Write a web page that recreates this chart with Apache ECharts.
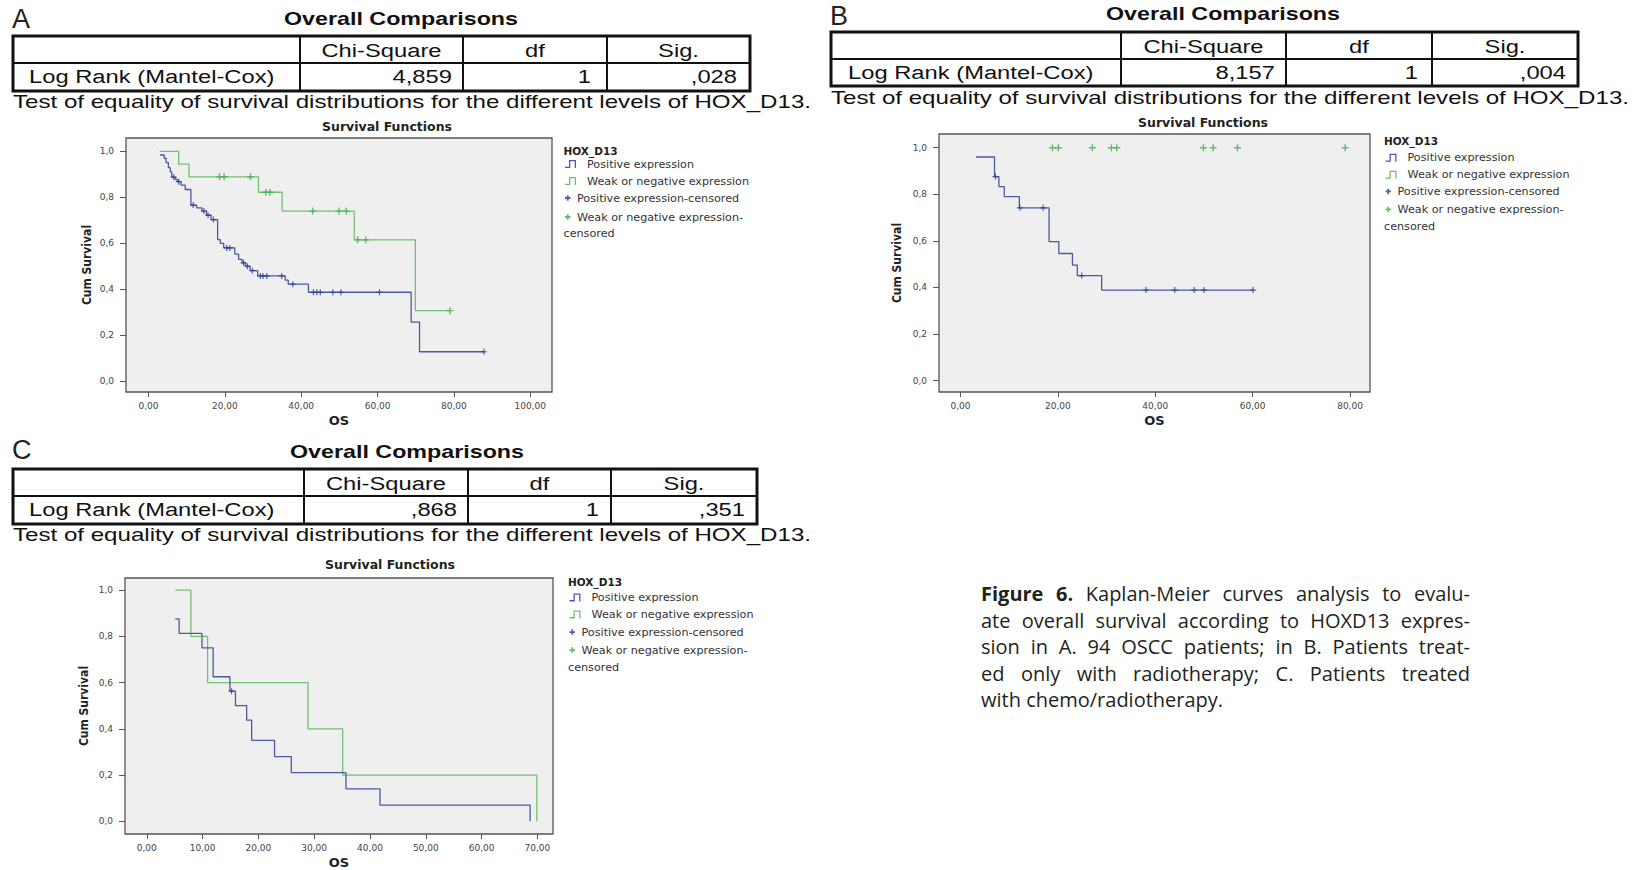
<!DOCTYPE html>
<html>
<head>
<meta charset="utf-8">
<script src="https://cdn.jsdelivr.net/npm/echarts@6/dist/echarts.min.js"></script>
<style>
html,body{margin:0;padding:0;background:#fff;}
#chart{position:absolute;left:0;top:0;width:1649px;height:870px;}
#fig{position:absolute;left:981px;top:581px;width:489px;font-family:'Open Sans',sans-serif;font-size:20px;line-height:26.5px;color:#231f20;}
#fig .j{text-align:justify;text-align-last:justify;}
#fig b{font-weight:700;}
</style>
</head>
<body>
<div id="chart"></div>
<div id="fig">
<div class="j"><b>Figure 6.</b> Kaplan-Meier curves analysis to evalu-</div>
<div class="j">ate overall survival according to HOXD13 expres-</div>
<div class="j">sion in A. 94 OSCC patients; in B. Patients treat-</div>
<div class="j">ed only with radiotherapy; C. Patients treated</div>
<div>with chemo/radiotherapy.</div>
</div>
<script>
// ---------------- DATA ----------------
const panelLabels = ['A', 'B', 'C'];
const tableTitle = 'Overall Comparisons';
const tableHeader = ['Chi-Square', 'df', 'Sig.'];
const rowLabel = 'Log Rank (Mantel-Cox)';
const chiSquare = ['4,859', '8,157', ',868'];
const dfValues = ['1', '1', '1'];
const sigValues = [',028', ',004', ',351'];
const tableNote = 'Test of equality of survival distributions for the different levels of HOX_D13.';
const plotTitle = 'Survival Functions';
const legendTitle = 'HOX_D13';
const xName = 'OS';
const yName = 'Cum Survival';
const seriesNames = ['Positive expression', 'Weak or negative expression',
  'Positive expression-censored', 'Weak or negative expression-censored'];

const xTicksA = [0, 20, 40, 60, 80, 100];
const xTicksB = [0, 20, 40, 60, 80];
const xTicksC = [0, 10, 20, 30, 40, 50, 60, 70];
const yTicks = [0, 0.2, 0.4, 0.6, 0.8, 1.0];

// Panel A (94 OSCC patients)
const posA = [[3.0,0.984],[4.1,0.970],[4.6,0.951],[5.2,0.929],[5.7,0.911],[6.1,0.888],[7.0,0.878],[7.6,0.868],
  [8.5,0.853],[9.6,0.834],[11.1,0.766],[12.6,0.754],[14.0,0.740],[15.2,0.722],[16.4,0.703],[18.1,0.616],
  [18.8,0.600],[19.7,0.580],[22.6,0.553],[23.6,0.530],[24.5,0.515],[25.4,0.500],[26.6,0.481],[28.6,0.458],
  [35.8,0.440],[36.6,0.422],[41.9,0.387],[68.8,0.257],[71.0,0.128],[87.9,0.128]];
const posCensA = [[6.6,0.888],[7.9,0.868],[11.7,0.766],[14.5,0.740],[15.6,0.722],[17.0,0.703],[20.5,0.580],
  [21.3,0.580],[24.9,0.515],[25.9,0.500],[27.2,0.481],[29.3,0.458],[30.0,0.458],[31.0,0.458],[34.9,0.458],
  [37.8,0.422],[43.2,0.387],[44.1,0.387],[45.0,0.387],[48.3,0.387],[50.4,0.387],[60.5,0.387],[87.9,0.128]];
const negA = [[2.9,1.0],[7.9,0.944],[10.6,0.889],[28.8,0.822],[35.0,0.740],[53.9,0.615],[69.9,0.307],[79.0,0.307]];
const negCensA = [[18.6,0.889],[19.8,0.889],[26.7,0.889],[30.7,0.822],[31.8,0.822],[43.0,0.740],[49.9,0.740],
  [51.8,0.740],[54.8,0.615],[56.9,0.615],[79.0,0.307]];

// Panel B (radiotherapy only)
const posB = [[3.2,0.960],[7.0,0.876],[7.9,0.833],[9.0,0.790],[12.1,0.742],[18.2,0.597],[20.2,0.546],
  [23.0,0.496],[24.0,0.451],[29.0,0.389],[60.1,0.389]];
const posCensB = [[7.2,0.876],[12.2,0.742],[17.0,0.742],[24.9,0.451],[38.1,0.389],[44.0,0.389],[48.0,0.389],
  [50.0,0.389],[60.1,0.389]];
const negB = [];
const negCensB = [[18.9,1],[20.1,1],[27.1,1],[31.0,1],[32.1,1],[49.9,1],[51.9,1],[56.9,1],[79.0,1]];

// Panel C (chemo/radiotherapy)
const posC = [[5.1,0.875],[5.8,0.8125],[9.9,0.75],[11.9,0.625],[14.9,0.5625],[15.9,0.5],[17.9,0.4375],
  [18.8,0.35],[22.9,0.28],[25.9,0.21],[35.7,0.14],[41.8,0.07],[68.7,0.0]];
const posCensC = [[15.2,0.5625]];
const negC = [[5.1,1.0],[7.9,0.8],[10.9,0.6],[28.9,0.4],[35.1,0.2],[69.9,0.0]];
const negCensC = [];

// ---------------- LAYOUT / STYLE ----------------
const ARIAL = "'Liberation Sans', Arial, sans-serif";
const SPSS = "'DejaVu Sans', Verdana, sans-serif";
const NARROW = "'Liberation Sans Narrow', 'DejaVu Sans Condensed', 'Liberation Sans', sans-serif";
const BLUE = '#4d59a1', GREEN = '#74c072', BLUE_C = '#2b3990', GREEN_C = '#3fae49';
const LEG_BLUE = '#5a52c4';
const SX = 1.32;

const panels = [
  { data: [posA, negA, posCensA, negCensA], xTicks: xTicksA,
    grid: {left:126, top:138, width:426, height:254}, xMin:-5.9, xMax:105.7, yMin:-0.047, yMax:1.058, yGap:33,
    tbl: {x0:13, x1:750, y0:36, ym:63, y1:91, cols:[300,463,607], hdrY:50.5, rowY:77, labelX:29, valR:[452,591,737],
          titleX:401, titleY:19, letterX:12, letterY:19, noteX:13, noteY:102},
    plotTitle: {x:387, y:120},
    leg: {x:563.5, iconX:565, titleY:151, lineTop:158.5, lineGap:6, censTop:192.5, censGap:8, censY:233.5} },
  { data: [posB, negB, posCensB, negCensB], xTicks: xTicksB,
    grid: {left:939, top:134, width:431, height:258}, xMin:-4.4, xMax:84.1, yMin:-0.0485, yMax:1.0588, yGap:36,
    tbl: {x0:831, x1:1578, y0:32, ym:59, y1:86, cols:[1121,1286,1432], hdrY:46.5, rowY:73, labelX:848, valR:[1275,1418,1566],
          titleX:1223, titleY:14, letterX:830, letterY:16, noteX:831, noteY:98},
    plotTitle: {x:1203, y:115.5},
    leg: {x:1384, iconX:1385.5, titleY:141, lineTop:152.3, lineGap:6, censTop:185.9, censGap:7, censY:226} },
  { data: [posC, negC, posCensC, negCensC], xTicks: xTicksC,
    grid: {left:125, top:578, width:428, height:257}, xMin:-3.9, xMax:72.8, yMin:-0.055, yMax:1.052, yGap:35,
    tbl: {x0:13, x1:757, y0:469, ym:496, y1:524, cols:[304,468,611], hdrY:483.5, rowY:510, labelX:29, valR:[457,599,745],
          titleX:407, titleY:452, letterX:12, letterY:450, noteX:13, noteY:535},
    plotTitle: {x:390, y:557.5},
    leg: {x:568, iconX:569.5, titleY:582, lineTop:591.9, lineGap:6, censTop:626.6, censGap:7, censY:667} }
];

// legend glyphs (degenerate sub-paths only pad the bounding box)
const STEP_ICON = 'path://M0,13.4L8,13.4L8,0L22,0L22,16L19.4,16L19.4,2.6L10.6,2.6L10.6,16L0,16ZM34,8L34,8Z';
const CROSS_ICON = 'path://M0,0L0,0ZM14,14L14,14ZM3.7,1.5L7.3,1.5L7.3,5.2L11,5.2L11,8.8L7.3,8.8L7.3,12.5L3.7,12.5L3.7,8.8L0,8.8L0,5.2L3.7,5.2Z';
const CROSS_SYM = 'path://M4,0L6,0L6,4L10,4L10,6L6,6L6,10L4,10L4,6L0,6L0,4L4,4Z';

const fmtX = v => v.toFixed(2).replace('.', ',');
const fmtY = v => v.toFixed(1).replace('.', ',');

function txt(text, x, y, align, size, weight, sx, family, color) {
  return { type: 'text', x: x, y: y, scaleX: sx, silent: true,
    style: { text: text, align: align, verticalAlign: 'middle', fontSize: size, fontWeight: weight,
      fontFamily: family, fill: color } };
}
function line(x1, y1, x2, y2, w) {
  return { type: 'line', silent: true, shape: {x1, y1, x2, y2}, style: {stroke: '#111', lineWidth: w} };
}

const graphics = [];
panels.forEach((p, i) => {
  const t = p.tbl;
  graphics.push({ type: 'rect', silent: true,
    shape: {x: t.x0, y: t.y0, width: t.x1 - t.x0, height: t.y1 - t.y0},
    style: {fill: 'none', stroke: '#111', lineWidth: 3} });
  graphics.push(line(t.x0, t.ym, t.x1, t.ym, 2));
  t.cols.forEach(c => graphics.push(line(c, t.y0, c, t.y1, 2)));
  const centers = [(t.cols[0] + t.cols[1]) / 2, (t.cols[1] + t.cols[2]) / 2, (t.cols[2] + t.x1) / 2];
  tableHeader.forEach((h, k) => graphics.push(txt(h, centers[k], t.hdrY, 'center', 18, 'normal', SX, ARIAL, '#111')));
  graphics.push(txt(rowLabel, t.labelX, t.rowY, 'left', 18, 'normal', SX, ARIAL, '#111'));
  [chiSquare[i], dfValues[i], sigValues[i]].forEach((v, k) =>
    graphics.push(txt(v, t.valR[k], t.rowY, 'right', 18, 'normal', SX, ARIAL, '#111')));
  graphics.push(txt(tableTitle, t.titleX, t.titleY, 'center', 17.5, 'bold', 1.33, ARIAL, '#111'));
  graphics.push(txt(tableNote, t.noteX, t.noteY, 'left', 18, 'normal', 1.34, ARIAL, '#111'));
  graphics.push(txt(panelLabels[i], t.letterX, t.letterY, 'left', 27, 'normal', 1, ARIAL, '#222'));
  graphics.push(txt(legendTitle, p.leg.x, p.leg.titleY, 'left', 10.5, 'bold', 1, SPSS, '#222'));
  graphics.push(txt('censored', p.leg.x, p.leg.censY, 'left', 11.2, 'normal', 1, SPSS, '#333'));
});

const legends = [];
panels.forEach(p => {
  const common = { orient: 'vertical', left: p.leg.iconX, padding: 0, selectedMode: false,
    itemStyle: { borderWidth: 0 }, textStyle: { fontFamily: SPSS, fontSize: 11.2, color: '#333' } };
  legends.push(Object.assign({}, common, {
    top: p.leg.lineTop, itemWidth: 17, itemHeight: 8, itemGap: p.leg.lineGap,
    data: [{ name: seriesNames[0], icon: STEP_ICON, itemStyle: { color: LEG_BLUE } },
           { name: seriesNames[1], icon: STEP_ICON }]
  }));
  legends.push(Object.assign({}, common, {
    top: p.leg.censTop, itemWidth: 7, itemHeight: 7, itemGap: p.leg.censGap,
    formatter: n => n === seriesNames[3] ? 'Weak or negative expression-' : n,
    data: [{ name: seriesNames[2], icon: CROSS_ICON }, { name: seriesNames[3], icon: CROSS_ICON }]
  }));
});

const option = {
  animation: false,
  textStyle: { fontFamily: SPSS },
  title: panels.map(p => ({
    text: plotTitle, left: p.plotTitle.x, top: p.plotTitle.y, padding: 0,
    textAlign: 'center', textVerticalAlign: 'top',
    textStyle: { fontFamily: SPSS, fontWeight: 'bold', fontSize: 12.5, color: '#222' }
  })),
  grid: panels.map(p => Object.assign({ show: true, backgroundColor: '#efefef', borderColor: '#555', borderWidth: 1.3 }, p.grid)),
  xAxis: panels.map((p, i) => ({
    type: 'value', gridIndex: i, min: p.xMin, max: p.xMax,
    name: xName, nameLocation: 'middle', nameGap: 22,
    nameTextStyle: { fontFamily: SPSS, fontWeight: 'bold', fontSize: 13, color: '#222' },
    axisLine: { show: false, onZero: false },
    splitLine: { show: false },
    axisTick: { show: true, length: 5, customValues: p.xTicks, lineStyle: { color: '#555' } },
    axisLabel: { customValues: p.xTicks, formatter: fmtX, fontFamily: SPSS, fontSize: 9, color: '#444', margin: 9 }
  })),
  yAxis: panels.map((p, i) => ({
    type: 'value', gridIndex: i, min: p.yMin, max: p.yMax,
    name: yName, nameLocation: 'middle', nameGap: p.yGap,
    nameTextStyle: { fontFamily: NARROW, fontWeight: 'bold', fontSize: 12, color: '#222' },
    axisLine: { show: false, onZero: false },
    splitLine: { show: false },
    axisTick: { show: true, length: 6, customValues: yTicks, lineStyle: { color: '#555' } },
    axisLabel: { customValues: yTicks, formatter: fmtY, fontFamily: SPSS, fontSize: 9, color: '#444', margin: 12 }
  })),
  legend: legends,
  graphic: { elements: graphics },
  series: []
};

panels.forEach((p, i) => {
  option.series.push(
    { name: seriesNames[0], type: 'line', xAxisIndex: i, yAxisIndex: i, step: 'end', data: p.data[0],
      showSymbol: false, color: BLUE, lineStyle: { width: 1.3, color: BLUE }, silent: true, z: 3 },
    { name: seriesNames[1], type: 'line', xAxisIndex: i, yAxisIndex: i, step: 'end', data: p.data[1],
      showSymbol: false, color: GREEN, lineStyle: { width: 1.3, color: GREEN }, silent: true, z: 2 },
    { name: seriesNames[2], type: 'scatter', xAxisIndex: i, yAxisIndex: i, data: p.data[2],
      symbol: CROSS_SYM, symbolSize: 6, color: BLUE_C, silent: true, z: 4 },
    { name: seriesNames[3], type: 'scatter', xAxisIndex: i, yAxisIndex: i, data: p.data[3],
      symbol: CROSS_SYM, symbolSize: 7, color: GREEN_C, silent: true, z: 4 }
  );
});

const chart = echarts.init(document.getElementById('chart'), null, { renderer: 'svg', width: 1649, height: 870 });
chart.setOption(option);
</script>
</body>
</html>
